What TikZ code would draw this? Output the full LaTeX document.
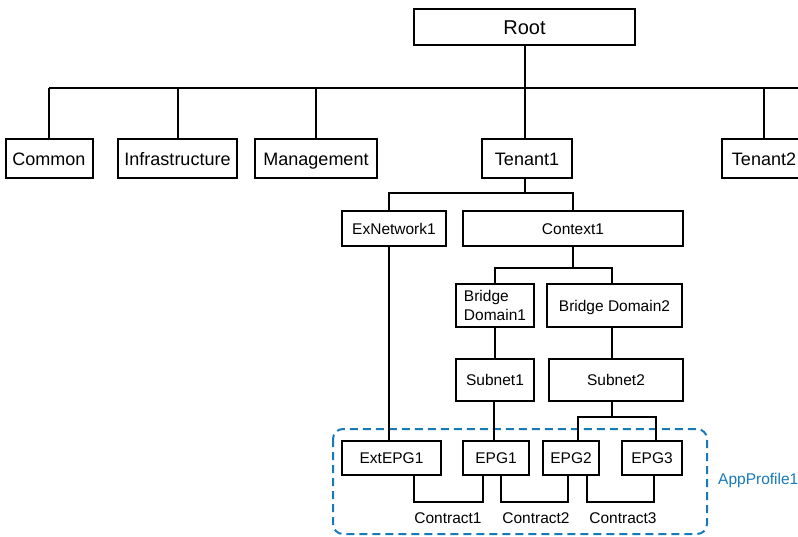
\documentclass[tikz,border=0pt]{standalone}
\usepackage{fontspec}
\setmainfont{Liberation Sans}
\definecolor{appblue}{RGB}{22,122,184}
\begin{document}
\begin{tikzpicture}[x=1pt,y=-1pt,
  box/.style={draw=black,line width=2pt,inner sep=0pt,fill=white},
  big/.style={font=\fontsize{20}{24}\selectfont,text height=19pt,text depth=4.6pt},
  mid/.style={font=\fontsize{18}{21}\selectfont,text height=17.1pt,text depth=4.1pt},
  small/.style={font=\fontsize{15.5}{19}\selectfont,text height=14.7pt,text depth=3.6pt},
  twoline/.style={font=\fontsize{15.5}{19}\selectfont,align=left},
  link/.style={line width=2pt,line join=miter}]
\useasboundingbox (0,0) rectangle (798,536);

% application profile frame
\draw[appblue,line width=2pt,dash pattern=on 8pt off 5pt,rounded corners=10pt]
  (333,429) rectangle (707,534);
\node[appblue,small,anchor=west,inner sep=0pt] (app) at (718,479) {AppProfile1};

% tree nodes
\node[box,big,minimum width=221pt,minimum height=36pt] (root) at (524.5,27) {Root};
\node[box,mid,minimum width=87pt,minimum height=39pt] (common) at (49,158.5) {Common};
\node[box,mid,minimum width=119pt,minimum height=39pt] (infra) at (177.5,158.5) {Infrastructure};
\node[box,mid,minimum width=122pt,minimum height=39pt] (mgmt) at (316,158.5) {Management};
\node[box,mid,minimum width=90pt,minimum height=39pt] (tenant1) at (527,158.5) {Tenant1};
\node[box,mid,minimum width=84pt,minimum height=39pt] (tenant2) at (764,158.5) {Tenant2};

\node[box,small,minimum width=104pt,minimum height=35pt] (exnet) at (394,228.5) {ExNetwork1};
\node[box,small,minimum width=220pt,minimum height=35pt] (ctx) at (573,228.5) {Context1};

\node[box,twoline,minimum width=78pt,minimum height=43pt] (bd1) at (495,305.5) {Bridge\\Domain1};
\node[box,small,minimum width=135pt,minimum height=43pt] (bd2) at (614.5,305.5) {Bridge Domain2};

\node[box,small,minimum width=78pt,minimum height=42pt] (sub1) at (495,380) {Subnet1};
\node[box,small,minimum width=134pt,minimum height=42pt] (sub2) at (616,380) {Subnet2};

\node[box,small,minimum width=99pt,minimum height=34pt] (extepg) at (391.5,458) {ExtEPG1};
\node[box,small,minimum width=66pt,minimum height=34pt] (epg1) at (496,458) {EPG1};
\node[box,small,minimum width=56pt,minimum height=34pt] (epg2) at (571,458) {EPG2};
\node[box,small,minimum width=60pt,minimum height=34pt] (epg3) at (652,458) {EPG3};

\node[small,inner sep=0pt] (c1) at (448,518) {Contract1};
\node[small,inner sep=0pt] (c2) at (536,518) {Contract2};
\node[small,inner sep=0pt] (c3) at (623,518) {Contract3};

% bus levels
\coordinate (rootbus) at (0,88);
\coordinate (tbus) at (0,193);
\coordinate (cbus) at (0,268);
\coordinate (sbus) at (0,417);
\coordinate (kbus) at (0,502);
\coordinate (busend) at (810,88);

% root level
\draw[link] (root.south) -- (root.south |- rootbus);
\draw[link] (common.north |- rootbus) -- (busend);
\draw[link] (common.north |- rootbus) -- (common.north);
\draw[link] (infra.north |- rootbus) -- (infra.north);
\draw[link] (mgmt.north |- rootbus) -- (mgmt.north);
\draw[link] (root.south |- rootbus) -- (root.south |- tenant1.north);
\draw[link] (tenant2.north |- rootbus) -- (tenant2.north);

% tenant level
\draw[link] (root.south |- tenant1.south) -- (root.south |- tbus);
\draw[link] ([xshift=-5pt]exnet.north) |- (ctx.north |- tbus) -- (ctx.north);

% context level
\draw[link] (ctx.south) -- (ctx.south |- cbus);
\draw[link] (bd1.north) |- ([xshift=-2.5pt]bd2.north |- cbus) -- ([xshift=-2.5pt]bd2.north);
\draw[link] (bd1.south) -- (sub1.north);
\draw[link] ([xshift=-2.5pt]bd2.south) -- ([xshift=-2.5pt]bd2.south |- sub2.north);

% endpoint groups
\draw[link] ([xshift=-5pt]exnet.south) -- ([xshift=-5pt]exnet.south |- extepg.north);
\draw[link] ([xshift=-1pt]sub1.south) -- ([xshift=-1pt]sub1.south |- epg1.north);
\draw[link] ([xshift=-4pt]sub2.south) -- ([xshift=-4pt]sub2.south |- sbus);
\draw[link] ([xshift=7pt]epg2.north) |- ([xshift=4pt]epg3.north |- sbus) -- ([xshift=4pt]epg3.north);

% contracts between groups
\draw[link] ([xshift=22.5pt]extepg.south) |- ([xshift=-13pt]epg1.south |- kbus) -- ([xshift=-13pt]epg1.south);
\draw[link] ([xshift=5pt]epg1.south) |- ([xshift=-3pt]epg2.south |- kbus) -- ([xshift=-3pt]epg2.south);
\draw[link] ([xshift=16pt]epg2.south) |- ([xshift=2pt]epg3.south |- kbus) -- ([xshift=2pt]epg3.south);
\end{tikzpicture}
\end{document}
